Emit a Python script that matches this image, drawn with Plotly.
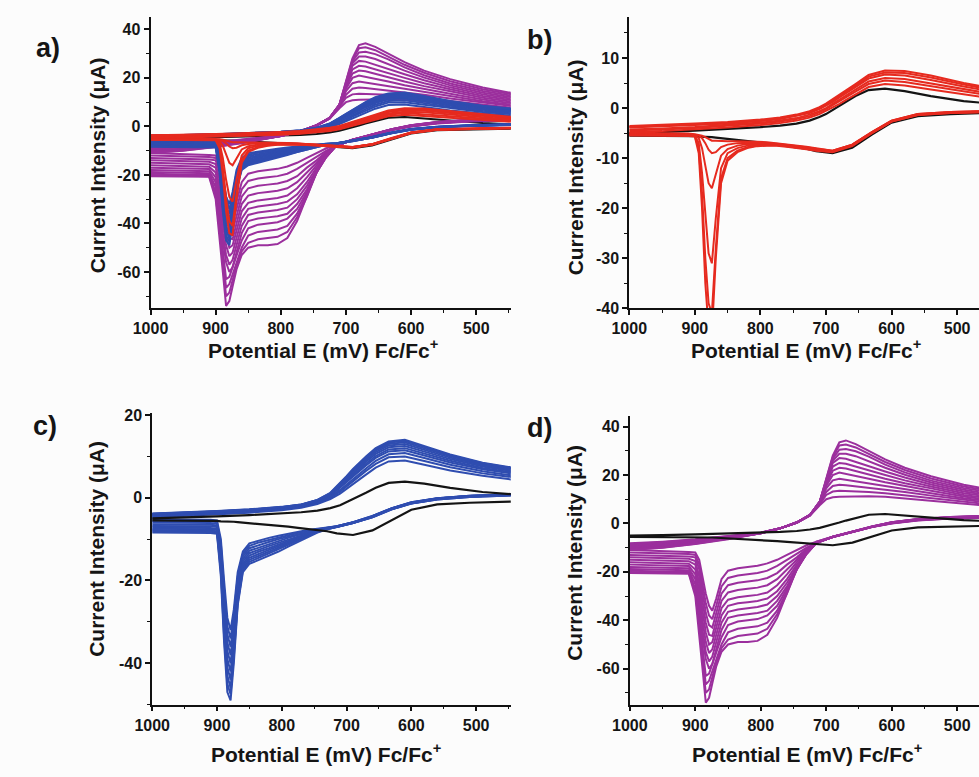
import plotly.graph_objects as go

# Potential grid (mV) for the cathodic sweep (1000 -> 440) and the anodic return (440 -> 1000)
E_LOWER = [1000, 950, 910, 900, 894, 889, 884, 879, 874, 868, 860, 850, 835, 820, 805,
           790, 775, 760, 745, 730, 715, 690, 660, 630, 600, 560, 510, 440]
E_UPPER = [440, 490, 540, 580, 610, 635, 655, 670, 680, 690, 700, 710, 725, 745, 770,
           800, 850, 900, 950, 1000]

# Blank electrode (black)
BLACK_LOWER = [-5.5, -5.5, -5.6, -5.6, -5.7, -5.7, -5.7, -5.8, -5.8, -5.9, -6.0, -6.1, -6.3, -6.5,
               -6.8, -7.0, -7.3, -7.6, -7.9, -8.1, -8.6, -9.0, -7.9, -5.3, -2.9, -1.6, -1.2, -0.9]
BLACK_UPPER = [0.8, 1.4, 2.4, 3.4, 3.9, 3.6, 2.4, 1.2, 0.4, -0.4, -1.2, -1.8, -2.5, -3.1, -3.5,
               -3.8, -4.2, -4.5, -4.8, -5.0]

# Red scans (current in uA)
RED_LOWER = [
    [-5.0, -5.0, -5.1, -5.2, -5.3, -5.5, -5.8, -6.2, -6.5, -6.5, -6.6, -6.6, -6.6, -6.6, -6.7, -6.8, -7.0, -7.2, -7.4, -7.7, -8.0, -8.5, -7.3, -4.8, -2.5, -1.2, -0.8, -0.5],
    [-5.1, -5.1, -5.2, -5.3, -5.5, -6.0, -7.0, -8.3, -9.0, -8.8, -7.8, -7.3, -7.0, -6.9, -6.9, -7.0, -7.1, -7.3, -7.5, -7.8, -8.1, -8.5, -7.3, -4.8, -2.5, -1.2, -0.8, -0.5],
    [-5.2, -5.2, -5.3, -5.4, -6.0, -8.0, -11.5, -15, -16, -13, -9.5, -8.2, -7.5, -7.2, -7.1, -7.1, -7.2, -7.4, -7.6, -7.9, -8.2, -8.6, -7.4, -4.9, -2.6, -1.3, -0.9, -0.6],
    [-5.3, -5.3, -5.4, -5.5, -7.0, -13, -22, -29, -31, -22, -12, -9.0, -8.0, -7.5, -7.3, -7.2, -7.3, -7.5, -7.7, -8.0, -8.3, -8.6, -7.4, -4.9, -2.6, -1.3, -0.9, -0.6],
    [-5.4, -5.4, -5.5, -5.6, -8.0, -17, -30, -39, -41, -28, -14, -10, -8.5, -7.8, -7.5, -7.4, -7.4, -7.6, -7.8, -8.1, -8.4, -8.7, -7.5, -5.0, -2.7, -1.4, -1.0, -0.7],
    [-5.5, -5.5, -5.6, -5.7, -9.0, -20, -35, -44, -45, -30, -15, -10.5, -8.8, -8.0, -7.6, -7.5, -7.5, -7.7, -7.9, -8.2, -8.5, -8.8, -7.6, -5.0, -2.7, -1.4, -1.0, -0.7],
]
RED_UPPER = [
    [1.8, 2.7, 3.7, 4.5, 4.8, 4.2, 2.8, 1.6, 0.8, 0.1, -0.6, -1.2, -1.9, -2.5, -3.0, -3.4, -3.9, -4.3, -4.6, -4.8],
    [2.3, 3.3, 4.4, 5.2, 5.5, 4.8, 3.3, 2.1, 1.25, 0.5, -0.2, -0.85, -1.6, -2.2, -2.7, -3.1, -3.6, -4.0, -4.3, -4.5],
    [2.7, 3.8, 5.0, 5.8, 6.0, 5.3, 3.7, 2.5, 1.6, 0.8, 0.0, -0.6, -1.3, -2.0, -2.5, -2.9, -3.4, -3.8, -4.1, -4.3],
    [3.2, 4.3, 5.6, 6.5, 6.7, 5.9, 4.2, 3.0, 2.1, 1.2, 0.5, -0.2, -1.0, -1.6, -2.2, -2.6, -3.1, -3.4, -3.7, -3.9],
    [3.5, 4.7, 6.1, 7.0, 7.1, 6.3, 4.5, 3.3, 2.4, 1.5, 0.7, 0.0, -0.8, -1.5, -2.0, -2.5, -3.0, -3.3, -3.6, -3.8],
    [3.8, 5.0, 6.5, 7.4, 7.5, 6.6, 4.8, 3.5, 2.6, 1.7, 0.9, 0.2, -0.6, -1.3, -1.9, -2.3, -2.8, -3.1, -3.4, -3.6],
]

# Blue scans
BLUE_LOWER = [
    [-5.2, -5.2, -5.3, -5.5, -10, -20, -29, -32, -27, -18, -13, -11, -10.3, -9.7, -9.2, -8.7, -8.2, -7.8, -7.5, -7.2, -6.9, -5.9, -4.4, -2.5, -1.1, -0.1, 0.5, 0.9],
    [-5.6, -5.6, -5.7, -5.9, -11, -22, -31, -34, -28.5, -19, -13.6, -11.6, -10.8, -10.2, -9.6, -9.1, -8.5, -8.0, -7.6, -7.2, -6.9, -5.9, -4.4, -2.5, -1.1, -0.1, 0.5, 0.9],
    [-6.0, -6.0, -6.1, -6.3, -12, -23.5, -33, -36, -30, -20, -14.2, -12.2, -11.4, -10.7, -10.0, -9.4, -8.8, -8.2, -7.7, -7.3, -7.0, -6.0, -4.5, -2.6, -1.2, -0.2, 0.4, 0.8],
    [-6.4, -6.4, -6.5, -6.7, -13, -25, -35, -38, -31.5, -21, -14.8, -12.8, -12.0, -11.2, -10.4, -9.7, -9.0, -8.4, -7.8, -7.3, -7.0, -6.0, -4.5, -2.6, -1.2, -0.2, 0.4, 0.8],
    [-6.8, -6.8, -6.9, -7.1, -14, -27, -37, -40, -33, -22, -15.4, -13.4, -12.5, -11.7, -10.9, -10.1, -9.3, -8.6, -7.9, -7.4, -7.0, -6.0, -4.5, -2.6, -1.2, -0.2, 0.4, 0.8],
    [-7.2, -7.2, -7.3, -7.5, -15, -28.5, -39, -42, -34.5, -23, -16, -14, -13, -12.2, -11.3, -10.4, -9.6, -8.8, -8.0, -7.4, -7.0, -6.0, -4.6, -2.7, -1.3, -0.3, 0.3, 0.7],
    [-7.5, -7.5, -7.6, -7.8, -16, -30, -41, -44, -36, -24, -16.5, -14.5, -13.5, -12.6, -11.7, -10.8, -9.9, -9.0, -8.1, -7.5, -7.0, -6.1, -4.6, -2.7, -1.3, -0.3, 0.3, 0.7],
    [-7.8, -7.8, -7.9, -8.1, -17, -32, -43, -46, -37.5, -25, -17, -15, -14, -13.1, -12.1, -11.1, -10.1, -9.2, -8.2, -7.5, -7.1, -6.1, -4.6, -2.7, -1.3, -0.3, 0.3, 0.7],
    [-8.1, -8.1, -8.2, -8.4, -18, -33.5, -45, -47.5, -38.5, -25.5, -17.5, -15.5, -14.5, -13.5, -12.5, -11.4, -10.3, -9.3, -8.3, -7.6, -7.1, -6.1, -4.7, -2.8, -1.4, -0.4, 0.2, 0.6],
    [-8.4, -8.4, -8.5, -8.7, -19, -35, -47, -49, -40, -26, -18, -16, -15, -14, -13, -11.8, -10.6, -9.5, -8.4, -7.6, -7.1, -6.1, -4.7, -2.8, -1.4, -0.4, 0.2, 0.6],
]
BLUE_UPPER = [
    [4.3, 5.3, 6.6, 8.0, 9.0, 8.8, 7.3, 5.6, 4.4, 3.2, 2.0, 1.0, -0.3, -1.5, -2.4, -3.0, -3.6, -4.0, -4.4, -4.8],
    [4.9, 5.9, 7.4, 8.9, 10.0, 9.8, 8.2, 6.5, 5.2, 4.0, 2.6, 1.5, 0.0, -1.3, -2.2, -2.8, -3.4, -3.8, -4.2, -4.6],
    [5.3, 6.4, 8.0, 9.6, 10.8, 10.5, 8.9, 7.1, 5.8, 4.5, 3.1, 1.9, 0.2, -1.1, -2.1, -2.7, -3.3, -3.7, -4.1, -4.45],
    [5.75, 6.9, 8.55, 10.25, 11.5, 11.2, 9.65, 7.8, 6.45, 5.1, 3.6, 2.25, 0.45, -1.0, -2.0, -2.6, -3.2, -3.6, -3.95, -4.3],
    [6.05, 7.2, 8.95, 10.7, 12.0, 11.7, 10.1, 8.25, 6.85, 5.5, 3.9, 2.5, 0.6, -0.9, -1.9, -2.5, -3.1, -3.5, -3.85, -4.2],
    [6.35, 7.55, 9.35, 11.15, 12.5, 12.2, 10.6, 8.7, 7.25, 5.85, 4.25, 2.75, 0.75, -0.8, -1.85, -2.45, -3.05, -3.45, -3.8, -4.1],
    [6.6, 7.85, 9.7, 11.6, 13.0, 12.65, 11.05, 9.1, 7.7, 6.25, 4.55, 3.0, 0.9, -0.7, -1.75, -2.35, -2.95, -3.35, -3.7, -4.0],
    [6.85, 8.1, 10.0, 11.95, 13.4, 13.0, 11.45, 9.5, 8.0, 6.55, 4.8, 3.2, 1.0, -0.6, -1.7, -2.3, -2.9, -3.3, -3.6, -3.9],
    [7.05, 8.35, 10.3, 12.3, 13.75, 13.35, 11.75, 9.8, 8.3, 6.8, 5.05, 3.4, 1.1, -0.55, -1.65, -2.25, -2.85, -3.25, -3.55, -3.85],
    [7.2, 8.5, 10.5, 12.5, 14.0, 13.6, 12.0, 10.0, 8.5, 7.0, 5.2, 3.5, 1.2, -0.5, -1.6, -2.2, -2.8, -3.2, -3.5, -3.8],
]

# Purple scans
PURPLE_LOWER = [
    [-11, -11.3, -11.8, -12, -15, -22, -29, -34, -36, -31, -23, -19.5, -18.5, -18, -17.5, -16.5, -15, -13, -11, -9, -7.5, -5.5, -3.5, -1.5, 0, 1.2, 2, 2.5],
    [-12, -12.2, -12.6, -13, -17, -25, -33, -38, -39.5, -34, -26, -22.5, -21.5, -21, -20.5, -19.5, -17.5, -15, -12.5, -10, -8, -5.6, -3.5, -1.5, 0.1, 1.3, 2.1, 2.6],
    [-13, -13.2, -13.6, -14, -19, -28, -37, -42, -43, -37, -29, -25.5, -24.5, -24, -23.5, -22.5, -20.5, -17, -14, -10.5, -8, -5.6, -3.5, -1.4, 0.1, 1.4, 2.2, 2.7],
    [-14, -14.2, -14.6, -15.5, -22, -32, -41, -46, -46.5, -40, -32, -28.5, -27.5, -27, -26.5, -25.5, -23, -19, -15, -11, -8, -5.6, -3.5, -1.4, 0.2, 1.4, 2.3, 2.8],
    [-15, -15.2, -15.6, -17, -25, -36, -45, -50, -49, -43, -35, -31.5, -30.5, -30, -29.5, -28.5, -25.5, -21, -16, -11.5, -8, -5.6, -3.5, -1.4, 0.2, 1.5, 2.4, 2.9],
    [-16, -16.2, -16.6, -19, -28, -40, -49, -53.5, -52, -46, -38, -34, -33, -32.5, -32, -31, -28, -23, -17, -12, -8, -5.6, -3.5, -1.4, 0.3, 1.5, 2.4, 3.0],
    [-17, -17.2, -17.6, -21, -31, -44, -53, -57, -55, -49, -41, -36.5, -35.5, -35, -34.5, -33.5, -30, -24.5, -18, -12.5, -8, -5.6, -3.4, -1.3, 0.3, 1.6, 2.5, 3.0],
    [-18, -18.2, -18.5, -23, -34, -47, -56, -60, -58, -52, -44, -39, -38, -37.5, -37, -36, -32, -26, -18.5, -12.5, -8, -5.5, -3.4, -1.3, 0.4, 1.6, 2.5, 3.1],
    [-18.8, -19, -19.3, -25, -37, -51, -63, -62, -58, -54, -47, -42, -40.5, -40, -39.5, -38, -34, -27, -19, -12.5, -8, -5.5, -3.4, -1.3, 0.4, 1.7, 2.6, 3.1],
    [-19.5, -19.7, -20, -27, -40, -54, -66.5, -65, -61, -56, -50, -45, -43.5, -43, -42.5, -41, -36, -28, -19, -12.5, -8, -5.5, -3.3, -1.2, 0.5, 1.7, 2.6, 3.2],
    [-20, -20.2, -20.5, -28.5, -42.5, -57, -70, -68.5, -63.5, -57.5, -51.5, -48, -46.5, -46, -45.5, -43.5, -37.5, -29, -19, -12, -7.8, -5.5, -3.3, -1.2, 0.5, 1.8, 2.7, 3.3],
    [-20.5, -20.5, -20.8, -30, -45, -60, -74, -72, -66, -59, -53, -50, -49, -49, -48.5, -46, -39, -29, -18.5, -11.5, -7.5, -5.5, -3.3, -1.2, 0.5, 1.8, 2.7, 3.3],
]
PURPLE_UPPER = [
    [7, 8.2, 9.5, 10.5, 11, 11.2, 11.2, 11.1, 11, 10.8, 10, 7.5, 3.2, 0.3, -2, -3.8, -5.3, -6.5, -7.5, -8.2],
    [7.6, 9, 10.5, 11.8, 12.5, 13, 13.3, 13.5, 13.5, 13.2, 11.8, 8, 3.3, 0.3, -2, -3.8, -5.4, -6.7, -7.8, -8.5],
    [8.2, 9.7, 11.5, 13, 14, 14.8, 15.4, 15.8, 16, 15.5, 13, 8.3, 3.3, 0.3, -2, -3.9, -5.5, -7, -8.1, -8.8],
    [8.8, 10.4, 12.5, 14.2, 15.5, 16.6, 17.5, 18.1, 18.5, 17.8, 14.5, 8.5, 3.4, 0.4, -2, -3.9, -5.6, -7.2, -8.4, -9.1],
    [9.4, 11.1, 13.5, 15.4, 17, 18.5, 19.7, 20.5, 21, 20, 15.5, 8.6, 3.4, 0.4, -2, -3.9, -5.7, -7.4, -8.6, -9.4],
    [10, 11.8, 14.5, 16.6, 18.5, 20.3, 21.8, 22.7, 23, 21.8, 16.3, 8.7, 3.4, 0.4, -2, -4, -5.8, -7.6, -8.8, -9.7],
    [10.6, 12.5, 15.3, 17.8, 20, 22, 23.7, 24.7, 25, 23.5, 16.8, 8.8, 3.5, 0.4, -2, -4, -5.9, -7.8, -9, -9.9],
    [11.2, 13.2, 16.1, 19, 21.5, 23.8, 25.6, 26.7, 27, 25, 17.2, 8.9, 3.5, 0.5, -2, -4, -6, -8, -9.3, -10.2],
    [11.8, 13.9, 16.9, 20.1, 23, 25.8, 27.8, 28.8, 28.8, 26, 17.5, 9, 3.5, 0.5, -2, -4, -6.1, -8.1, -9.5, -10.4],
    [12.4, 14.6, 17.7, 21.1, 24.3, 27.6, 29.8, 30.8, 30.5, 26.8, 17.7, 9, 3.5, 0.5, -2, -4, -6.2, -8.2, -9.7, -10.6],
    [13, 15.3, 18.6, 22.1, 25.4, 28.8, 31.4, 32.6, 32.2, 27.5, 17.9, 9, 3.5, 0.5, -2, -4, -6.3, -8.4, -9.9, -10.8],
    [13.5, 16, 19.5, 23, 26.5, 30, 32.8, 34.3, 33.5, 28, 18, 9, 3.5, 0.5, -2, -4, -6.5, -8.5, -10, -11],
]

X_TICKS = [1000, 900, 800, 700, 600, 500]
Y_TICKS_A = [40, 20, 0, -20, -40, -60]
Y_TICKS_B = [10, 0, -10, -20, -30, -40]
Y_TICKS_C = [20, 0, -20, -40]
Y_TICKS_D = [40, 20, 0, -20, -40, -60]

PANEL_LABELS = ["a)", "b)", "c)", "d)"]
X_TITLE = "Potential E (mV) Fc/Fc<sup>+</sup>"
Y_TITLE = "Current Intensity (μA)"

COLORS = {"black": "#141414", "red": "#e62a1f", "blue": "#2f4db0", "purple": "#9b2f9d"}

W, H = 979, 777
FONT = "Liberation Sans"
BG = "#fcfcfc"


def px(x):
    return x / W


def py(y):
    return 1 - y / H


def cycles(lower_rows, upper_rows):
    for lo, up in zip(lower_rows, upper_rows):
        yield E_LOWER + E_UPPER, lo + up


def add_group(fig, name, lower_rows, upper_rows, xa, ya, width=2.0):
    for xs, ys in cycles(lower_rows, upper_rows):
        fig.add_trace(go.Scatter(
            x=xs, y=ys, mode="lines", xaxis=xa, yaxis=ya, showlegend=False,
            line=dict(color=COLORS[name], width=width), hoverinfo="skip"))


fig = go.Figure()

# panel a: all three series over the blank
add_group(fig, "black", [BLACK_LOWER], [BLACK_UPPER], "x", "y")
add_group(fig, "purple", PURPLE_LOWER, PURPLE_UPPER, "x", "y")
add_group(fig, "blue", BLUE_LOWER, BLUE_UPPER, "x", "y")
add_group(fig, "red", RED_LOWER, RED_UPPER, "x", "y")

# panel b: red
add_group(fig, "black", [BLACK_LOWER], [BLACK_UPPER], "x2", "y2", 2.2)
add_group(fig, "red", RED_LOWER, RED_UPPER, "x2", "y2")

# panel c: blue
add_group(fig, "blue", BLUE_LOWER, BLUE_UPPER, "x3", "y3")
add_group(fig, "black", [BLACK_LOWER], [BLACK_UPPER], "x3", "y3", 2.2)

# panel d: purple
add_group(fig, "purple", PURPLE_LOWER, PURPLE_UPPER, "x4", "y4")
add_group(fig, "black", [BLACK_LOWER], [BLACK_UPPER], "x4", "y4", 2.2)

tickfont = dict(family=FONT, size=16, color="#151515", weight="bold")


def xaxis(dom, rng, anchor):
    return dict(domain=[px(dom[0]), px(dom[1])], range=rng, anchor=anchor,
                showline=True, linecolor="#111", linewidth=1.8, showgrid=False, zeroline=False,
                ticks="outside", ticklen=5, tickwidth=1.6, tickcolor="#111",
                tickmode="array", tickvals=X_TICKS, ticktext=[str(v) for v in X_TICKS],
                tickfont=tickfont,
                minor=dict(dtick=50, tick0=0, ticks="outside", ticklen=3, tickwidth=1.4,
                           tickcolor="#111", showgrid=False),
                fixedrange=True)


def yaxis(dom, rng, anchor, ticks, minor_step):
    return dict(domain=[py(dom[0]), py(dom[1])], range=rng, anchor=anchor,
                showline=True, linecolor="#111", linewidth=1.8, showgrid=False, zeroline=False,
                ticks="outside", ticklen=5, tickwidth=1.6, tickcolor="#111",
                tickmode="array", tickvals=ticks, ticktext=[str(v) for v in ticks],
                tickfont=tickfont,
                minor=dict(dtick=minor_step, tick0=0, ticks="outside", ticklen=3, tickwidth=1.4,
                           tickcolor="#111", showgrid=False),
                fixedrange=True)


fig.update_layout(
    width=W, height=H, margin=dict(l=0, r=0, t=0, b=0),
    paper_bgcolor=BG, plot_bgcolor=BG, showlegend=False,
    xaxis=xaxis((135, 502), [1000, 447], "y"),
    yaxis=yaxis((308.3, 11.7), [-75, 44.9], "x", Y_TICKS_A, 10),
    xaxis2=xaxis((622.7, 979), [1000, 466.6], "y2"),
    yaxis2=yaxis((308.3, 11.7), [-40, 18.1], "x2", Y_TICKS_B, 5),
    xaxis3=xaxis((136.7, 502), [1000, 446.5], "y3"),
    yaxis3=yaxis((712.3, 415), [-50, 20.5], "x3", Y_TICKS_C, 10),
    xaxis4=xaxis((623.3, 979), [1000, 466.7], "y4"),
    yaxis4=yaxis((712.3, 418.3), [-74.8, 44.3], "x4", Y_TICKS_D, 10),
)

title_font = dict(family=FONT, size=21, color="#151515", weight="bold")
label_font = dict(family=FONT, size=27, color="#151515", weight="bold")

annotations = []
# axis titles: (x-title centre, y-title centre) per panel
x_title_pos = [(311, 350), (803, 350), (314, 762), (804, 762)]
y_title_pos = [(81, 163), (568, 165), (80, 554), (567, 558)]
label_pos = [(31, 43), (531, 35), (28, 428), (531, 430)]
for (xt, yt), (xy, yy), (lx, ly), lab in zip(x_title_pos, y_title_pos, label_pos, PANEL_LABELS):
    annotations.append(dict(text=X_TITLE, x=px(xt), y=py(yt), xref="paper", yref="paper",
                            showarrow=False, font=title_font, xanchor="center", yanchor="middle"))
    annotations.append(dict(text=Y_TITLE, x=px(xy), y=py(yy), xref="paper", yref="paper",
                            showarrow=False, font=title_font, textangle=-90,
                            xanchor="center", yanchor="middle"))
    annotations.append(dict(text=lab, x=px(lx), y=py(ly), xref="paper", yref="paper",
                            showarrow=False, font=label_font, xanchor="center", yanchor="middle"))
fig.update_layout(annotations=annotations)

fig.write_html("out.html")
